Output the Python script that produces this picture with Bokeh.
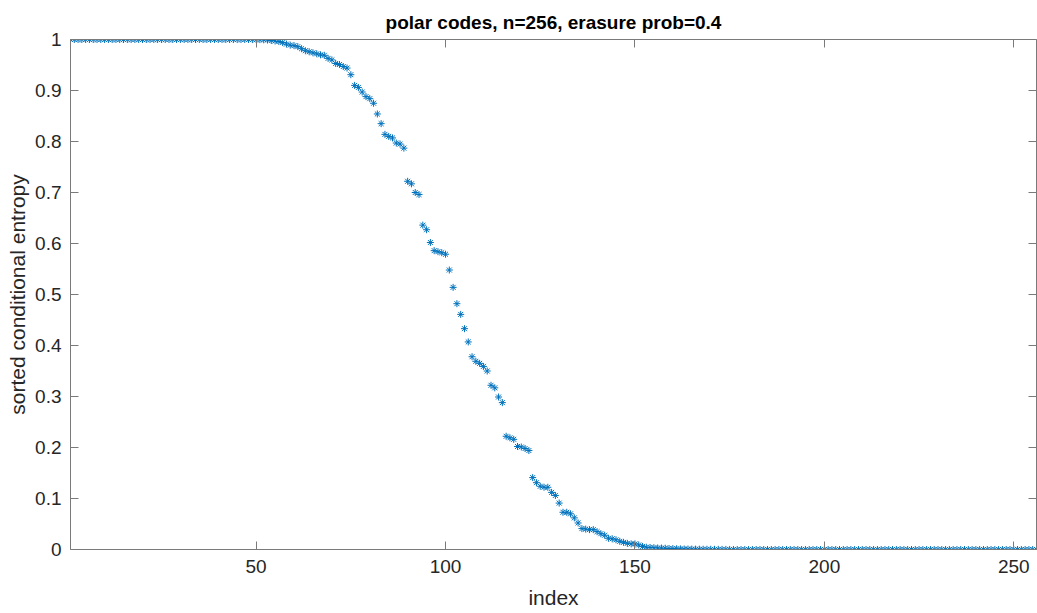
from bokeh.plotting import figure
from bokeh.models import ColumnDataSource, Range1d, FixedTicker, LinearAxis
from bokeh.embed import file_html
from bokeh.resources import INLINE

title_text = "polar codes, n=256, erasure prob=0.4"
x_label = "index"
y_label = "sorted conditional entropy"
x_ticks = [50, 100, 150, 200, 250]
y_ticks = [0, 0.1, 0.2, 0.3, 0.4, 0.5, 0.6, 0.7, 0.8, 0.9, 1]
y_tick_labels = ["0", "0.1", "0.2", "0.3", "0.4", "0.5", "0.6", "0.7", "0.8", "0.9", "1"]

# sorted conditional entropies, index 1..256
entropy_high = [
    1.0, 1.0, 1.0, 1.0, 1.0, 1.0, 1.0, 1.0, 1.0, 1.0, 1.0, 1.0, 1.0, 1.0, 1.0, 1.0,
    1.0, 1.0, 1.0, 1.0, 1.0, 1.0, 1.0, 1.0, 1.0, 1.0, 1.0, 1.0, 1.0, 1.0, 1.0, 1.0,
    1.0, 1.0, 1.0, 1.0, 1.0, 1.0, 1.0, 1.0, 1.0, 1.0, 1.0, 1.0, 1.0, 1.0, 1.0, 1.0,
    0.9999, 0.9998, 0.9997, 0.9995, 0.999, 0.998, 0.997, 0.996, 0.994, 0.991, 0.989,
    0.988, 0.986, 0.982, 0.978, 0.976, 0.974, 0.972, 0.970, 0.969, 0.963, 0.960,
    0.953, 0.951, 0.947, 0.944,
]
entropy_mid = [
    0.931, 0.910, 0.906, 0.897, 0.888, 0.884, 0.875, 0.854, 0.835, 0.814, 0.810,
    0.807, 0.797, 0.795, 0.787, 0.722, 0.717, 0.700, 0.696, 0.636, 0.627, 0.602,
    0.586, 0.584, 0.582, 0.579, 0.548, 0.514, 0.482, 0.461, 0.433, 0.407, 0.378,
    0.369, 0.365, 0.359, 0.350, 0.322, 0.317, 0.299, 0.288, 0.222, 0.219, 0.216,
    0.202, 0.201, 0.198, 0.194, 0.141, 0.131, 0.124, 0.122, 0.122, 0.112, 0.106,
    0.091, 0.073, 0.073, 0.070, 0.062, 0.052,
]
entropy_low = [
    0.041, 0.040, 0.039, 0.039, 0.035, 0.031, 0.028, 0.022, 0.021, 0.019, 0.016,
    0.014, 0.012, 0.011, 0.011, 0.009, 0.006, 0.0045, 0.004, 0.0035, 0.003, 0.0028,
    0.0025, 0.002, 0.0018, 0.0015, 0.0012, 0.001, 0.0009, 0.0008, 0.0007, 0.0006,
    0.0005, 0.0004, 0.0004, 0.0003, 0.0003, 0.0002, 0.0002, 0.0001,
    0.0, 0.0, 0.0, 0.0, 0.0, 0.0, 0.0, 0.0, 0.0, 0.0, 0.0, 0.0, 0.0, 0.0, 0.0, 0.0,
    0.0, 0.0, 0.0, 0.0, 0.0, 0.0, 0.0, 0.0, 0.0, 0.0, 0.0, 0.0, 0.0, 0.0, 0.0, 0.0,
    0.0, 0.0, 0.0, 0.0, 0.0, 0.0, 0.0, 0.0, 0.0, 0.0, 0.0, 0.0, 0.0, 0.0, 0.0, 0.0,
    0.0, 0.0, 0.0, 0.0, 0.0, 0.0, 0.0, 0.0, 0.0, 0.0, 0.0, 0.0, 0.0, 0.0, 0.0, 0.0,
    0.0, 0.0, 0.0, 0.0, 0.0, 0.0, 0.0, 0.0, 0.0, 0.0, 0.0, 0.0, 0.0, 0.0, 0.0, 0.0,
    0.0,
]
entropy = entropy_high + entropy_mid + entropy_low
index = list(range(1, len(entropy) + 1))

FONT = "Liberation Sans"
AX = "#262626"
BOX = "#7a7a7a"

p = figure(width=1037, height=613, output_backend="svg", toolbar_location=None,
           x_range=Range1d(1, 256), y_range=Range1d(0, 1),
           min_border_left=70, min_border_right=1, min_border_bottom=64, min_border_top=39)

p.title.text = title_text
p.title.align = "center"
p.title.text_font = FONT
p.title.text_font_size = "19px"
p.title.text_font_style = "bold"
p.title.text_color = "#000000"
p.title.offset = 0
p.title.standoff = 14

p.xgrid.visible = False
p.ygrid.visible = False
p.outline_line_color = None

p.xaxis.ticker = FixedTicker(ticks=x_ticks)
p.yaxis.ticker = FixedTicker(ticks=y_ticks)
p.yaxis.major_label_overrides = {t: s for t, s in zip(y_ticks, y_tick_labels)}
p.xaxis.axis_label = x_label
p.yaxis.axis_label = y_label

for ax in (p.xaxis, p.yaxis):
    ax.axis_line_color = BOX
    ax.major_tick_line_color = BOX
    ax.major_tick_in = 8
    ax.major_tick_out = 0
    ax.minor_tick_line_color = None
    ax.major_label_text_font = FONT
    ax.major_label_text_font_size = "19px"
    ax.major_label_text_color = AX
    ax.axis_label_text_font = FONT
    ax.axis_label_text_font_size = "21px"
    ax.axis_label_text_font_style = "normal"
    ax.axis_label_text_color = AX
p.xaxis.major_label_standoff = 10
p.xaxis.axis_label_standoff = 10
p.yaxis.major_label_standoff = 9
p.yaxis.axis_label_standoff = 3

top = LinearAxis(ticker=FixedTicker(ticks=x_ticks))
right = LinearAxis(ticker=FixedTicker(ticks=y_ticks))
top.major_label_overrides = {t: "" for t in x_ticks}
right.major_label_overrides = {t: "" for t in y_ticks}
for ax in (top, right):
    ax.axis_line_color = BOX
    ax.major_tick_line_color = BOX
    ax.major_tick_in = 8
    ax.major_tick_out = 0
    ax.minor_tick_line_color = None
    ax.major_label_text_font_size = "10px"
    ax.major_label_standoff = 0
p.add_layout(top, "above")
p.add_layout(right, "right")

src = ColumnDataSource(dict(x=index, y=entropy))
p.scatter("x", "y", source=src, marker="asterisk", size=7, line_color="#0072BD", line_width=1)

open("out.html", "w").write(file_html(p, INLINE))
